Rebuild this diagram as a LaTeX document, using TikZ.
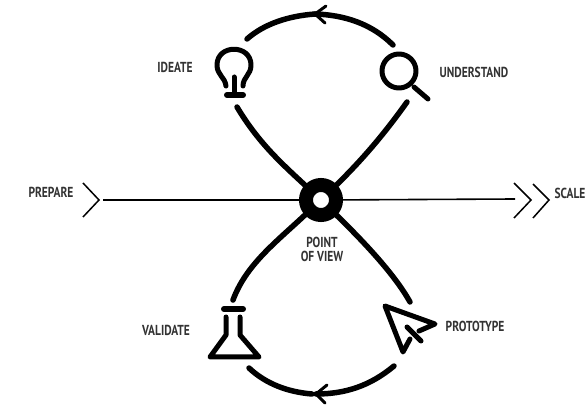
\documentclass[tikz,border=0pt]{standalone}
\usepackage{fontspec}
\setmainfont[FakeStretch=0.79]{PT Sans}

\tikzset{
  loopline/.style = {line width=5.5pt, line cap=round},
  iconline/.style = {line width=5pt, line cap=round, line join=round},
  thinline/.style = {line width=1.6pt},
  chevron/.style = {line width=1.5pt},
  barb/.style = {line width=3pt, line cap=round, line join=round},
  lab/.style = {font=\fontsize{14.5}{14}\selectfont\bfseries, align=center, inner sep=0pt, text=black!80}
}

\begin{document}
\begin{tikzpicture}[x=1pt,y=-1pt]
\useasboundingbox (0,0) rectangle (587,406);

\coordinate (topL) at (247,39);
\coordinate (topMid) at (315,14);
\coordinate (topR) at (393,45);
\coordinate (botL) at (249,368);
\coordinate (botMid) at (316,394);
\coordinate (botR) at (394,366);
\coordinate (ideateEnd) at (237,107);
\coordinate (understandEnd) at (407,102);
\coordinate (validateEnd) at (233,300);
\coordinate (prototypeEnd) at (410,302);
\coordinate (prepareEnd) at (103,200);
\coordinate (scaleEnd) at (515,199);

\node[circle, minimum size=30pt, inner sep=0pt, line width=14pt, draw, fill=white] (hub) at (321,200) {};

\draw[thinline] (prepareEnd) -- (hub);
\draw[thinline] (hub) -- (scaleEnd);
\draw[loopline] (ideateEnd) .. controls (258,142) and (280,162) .. (hub);
\draw[loopline] (understandEnd) .. controls (385,133) and (362,160) .. (hub);
\draw[loopline] (validateEnd) .. controls (246,265) and (275,243) .. (hub);
\draw[loopline] (prototypeEnd) .. controls (395,275) and (365,243) .. (hub);

\draw[loopline] (topR) .. controls (372,24) and (345,15) .. (topMid);
\draw[loopline] (topL) .. controls (264,24) and (288,16) .. (topMid);
\draw[barb] (326,6) -- (topMid) -- (325,23);
\draw[loopline] (botR) .. controls (370,386) and (345,394) .. (botMid);
\draw[loopline] (botL) .. controls (266,384) and (288,392) .. (312,394);
\draw[barb] (327,385) -- (botMid) -- (325,403);

\draw[chevron] (83,183) -- (99,200) -- (83,217);
\draw[chevron] (514,183) -- (531,200) -- (514,218);
\draw[chevron] (533,184) -- (549,200) -- (533,218);

\draw[iconline] (226,86) .. controls (225,77) and (217,75) .. (217,65) .. controls (217,44) and (251,44) .. (251,65) .. controls (251,75) and (243,77) .. (243,86);
\draw[iconline] (234,77) -- (234,93);
\draw[iconline, line width=6pt] (227,95) -- (243,95);

\draw[iconline] (399,71) circle (17pt);
\draw[iconline] (414,87) -- (428,99);

\draw[iconline, line width=6pt] (224,309) -- (243,309);
\draw[iconline] (226,317) -- (226,335) -- (210,357) -- (259,357) -- (240,335) -- (240,317);

\draw[iconline] (419,331) -- (435,324) -- (385,306) -- (403,352) -- (410,339);
\draw[iconline] (407,327) -- (421,341);

\node[lab] (prepare) at (51,192) {PREPARE};
\node[lab] (scale) at (570,193) {SCALE};
\node[lab] (ideate) at (175,67) {IDEATE};
\node[lab] (understand) at (474,72) {UNDERSTAND};
\node[lab] (validate) at (166,330) {VALIDATE};
\node[lab] (prototype) at (475,326) {PROTOTYPE};
\node[lab] (pov) at (322,249) {POINT\\OF VIEW};
\end{tikzpicture}
\end{document}
